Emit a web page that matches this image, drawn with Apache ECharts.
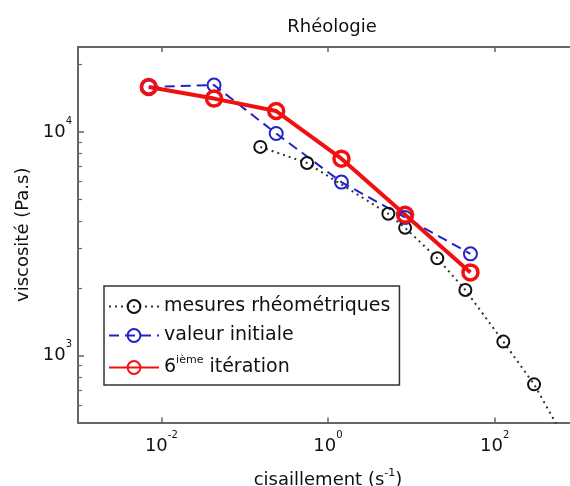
<!DOCTYPE html>
<html>
<head>
<meta charset="utf-8">
<script src="https://cdn.jsdelivr.net/npm/echarts@6/dist/echarts.min.js"></script>
<style>
html,body{margin:0;padding:0;background:#fff;}
#c{width:570px;height:486px;}
</style>
</head>
<body>
<div id="c"></div>
<script>
// ---- data ----
const shearRheo = [0.154, 0.561, 5.30, 8.42, 20.5, 44.5, 127, 297, 697];
const viscRheo  = [8570, 7260, 4300, 3720, 2716, 1960, 1151, 741, 420];
const shearModel = [0.00706, 0.0429, 0.239, 1.45, 8.42, 51.2];
const viscInit   = [15900, 16200, 9840, 5960, 4140, 2845];
const viscIter6  = [15900, 14100, 12400, 7590, 4255, 2350];
const xTicks = [0.01, 1, 100];
const yTicks = [1000, 10000];
const yMinorTicks = [600, 700, 800, 900, 2000, 3000, 4000, 5000, 6000, 7000, 8000, 9000, 20000];
const seriesNames = ['mesures rhéométriques', 'valeur initiale', '6ième itération'];

const FONT = 'DejaVu Sans';
const AX = '#666';

function pairs(xs, ys) { return xs.map((x, i) => [x, ys[i]]); }
function powLabel(v) {
  const e = Math.round(Math.log10(v));
  return '{b|10}{s|' + e + '}';
}
const supRich = {
  b: {fontFamily: FONT, fontSize: 18, color: '#111'},
  s: {fontFamily: FONT, fontSize: 10, color: '#111', padding: [0, 0, 22, 0]}
};

const chart = echarts.init(document.getElementById('c'), null, {renderer: 'canvas'});
const option = {
  animation: false,
  backgroundColor: '#fff',
  title: {
    text: 'Rhéologie', left: 327, top: 13, textAlign: 'center',
    textStyle: {fontFamily: FONT, fontSize: 18, fontWeight: 'normal', color: '#111'}
  },
  grid: {left: 78, right: -8, top: 47, bottom: 63.5, containLabel: false, outerBoundsMode: 'none'},
  legend: {
    orient: 'vertical', left: 104, top: 286,
    padding: [11, 9, 8, 4], itemWidth: 50, itemHeight: 16, itemGap: 10,
    backgroundColor: '#fff', borderColor: '#333', borderWidth: 1.5,
    data: seriesNames,
    formatter: function (n) {
      if (n === seriesNames[2]) return '{a|6}{s|ième} {a|itération}';
      return '{a|' + n + '}';
    },
    textStyle: {
      fontFamily: FONT, fontSize: 19, color: '#111',
      rich: {
        a: {fontFamily: FONT, fontSize: 19, color: '#111'},
        s: {fontFamily: FONT, fontSize: 11, color: '#111', padding: [0, 0, 14, 0]}
      }
    }
  },
  xAxis: [{
    type: 'log', min: 0.001, max: 1000, position: 'bottom',
    axisLine: {show: true, lineStyle: {color: AX, width: 2}},
    axisTick: {show: true, inside: true, length: 5, customValues: xTicks, lineStyle: {color: AX, width: 1.5}},
    axisLabel: {show: true, customValues: xTicks, margin: 8, formatter: powLabel, rich: supRich},
    splitLine: {show: false},
    name: '{n|cisaillement (s}{s|-1}{n|)}', nameLocation: 'middle', nameGap: 45,
    nameTextStyle: {
      rich: {
        n: {fontFamily: FONT, fontSize: 18, color: '#111'},
        s: {fontFamily: FONT, fontSize: 11, color: '#111', padding: [0, 0, 14, 0]}
      }
    }
  }, {
    type: 'log', min: 0.001, max: 1000, position: 'top',
    axisLine: {show: true, lineStyle: {color: AX, width: 2}},
    axisTick: {show: true, inside: true, length: 5, customValues: xTicks, lineStyle: {color: AX, width: 1.5}},
    axisLabel: {show: false}, splitLine: {show: false}
  }],
  yAxis: [{
    type: 'log', min: 500, max: 24000, position: 'left',
    axisLine: {show: true, lineStyle: {color: AX, width: 2}},
    axisTick: {show: true, inside: true, length: 6, customValues: yTicks, lineStyle: {color: AX, width: 1.5}},
    axisLabel: {show: true, customValues: yTicks, margin: 6, formatter: powLabel, rich: supRich},
    splitLine: {show: false},
    name: 'viscosité (Pa.s)', nameLocation: 'middle', nameGap: 45,
    nameTextStyle: {fontFamily: FONT, fontSize: 18, color: '#111'}
  }, {
    type: 'log', min: 500, max: 24000, position: 'left',
    axisLine: {show: false},
    axisTick: {show: true, inside: true, length: 4, customValues: yMinorTicks, lineStyle: {color: AX, width: 1.2}},
    axisLabel: {show: false}, splitLine: {show: false}
  }],
  series: [{
    name: seriesNames[0], type: 'line', data: pairs(shearRheo, viscRheo),
    symbol: 'circle', symbolSize: 12, clip: true,
    lineStyle: {color: '#333', width: 2, type: [2, 4]},
    itemStyle: {color: 'rgba(255,255,255,0)', borderColor: '#111', borderWidth: 2},
    emphasis: {disabled: true}
  }, {
    name: seriesNames[1], type: 'line', data: pairs(shearModel, viscInit),
    symbol: 'circle', symbolSize: 13, clip: true,
    lineStyle: {color: '#2323c8', width: 2, type: [10, 6]},
    itemStyle: {color: 'rgba(255,255,255,0)', borderColor: '#2323c8', borderWidth: 2},
    emphasis: {disabled: true}
  }, {
    name: seriesNames[2], type: 'line', data: pairs(shearModel, viscIter6),
    symbol: 'circle', symbolSize: 15, clip: true,
    lineStyle: {color: '#f01010', width: 4},
    itemStyle: {color: 'rgba(255,255,255,0)', borderColor: '#f01010', borderWidth: 3.5},
    emphasis: {disabled: true}
  }]
};
chart.setOption(option);
</script>
</body>
</html>
